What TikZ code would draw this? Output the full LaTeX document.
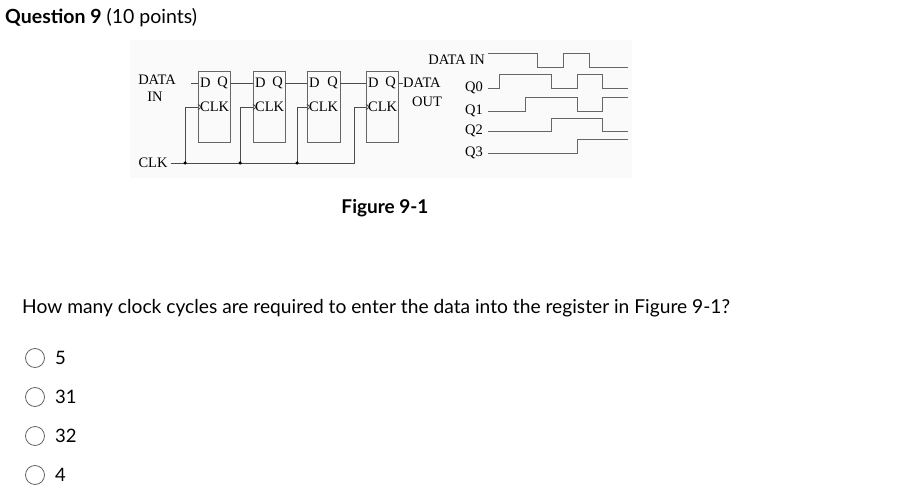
\documentclass[tikz,border=0pt]{standalone}
\usepackage{fontspec}
\setmainfont{Lato}
\newfontfamily\fserif{Liberation Serif}
\begin{document}
\begin{tikzpicture}[x=1pt,y=-1pt,
  ff/.style={draw=black!60,line width=0.9pt},
  lab/.style={font=\fserif\fontsize{14.5}{15}\selectfont,inner sep=0pt},
  w/.style={draw=black!70,line width=0.8pt},
  wave/.style={draw=black!60,line width=0.9pt},
  dot/.style={circle,fill=black,inner sep=0pt,minimum size=3.5pt},
  radio/.style={circle,draw=black!60,line width=0.8pt,minimum size=19pt,inner sep=0pt},
  opt/.style={anchor=west,font=\fontsize{18.5}{20}\selectfont,inner sep=0pt}]
\useasboundingbox (0,0) rectangle (899,494);
\fill[black!2] (130,40) rectangle (632,178);
\node[anchor=west,inner sep=0pt,font=\fontsize{19.5}{21}\selectfont] (title) at (5,18) {\textbf{Question 9} (10 points)};
% flip-flops
\foreach \i/\a/\b in {1/198/230,2/253/285,3/307/340,4/366/398}{
  \draw[ff] (\a,71) rectangle (\b,142);
  \node[lab,anchor=west] (d\i) at (\a+2,83) {D};
  \node[lab,anchor=east] (q\i) at (\b-2,83) {Q};
  \node[lab,anchor=west] (c\i) at (\a+2,107) {CLK};
  \coordinate (din\i) at (\a,83);
  \coordinate (dout\i) at (\b,83);
  \coordinate (ck\i) at (\a,107);
  \draw[w] (\a,104) -- (\a+3,107) -- (\a,110);
}
\node[lab] (datain) at (157,80) {DATA};
\node[lab] (in) at (155,97) {IN};
\coordinate (dinstart) at (191,83);
\draw[w] (dinstart) -- (din1);
\draw[w] (dout1) -- (din2);
\draw[w] (dout2) -- (din3);
\draw[w] (dout3) -- (din4);
\node[lab,anchor=west] (dataout) at (403,83) {DATA};
\node[lab,anchor=west] (out) at (412,102) {OUT};
\draw[w] (dout4) -- (dataout.west);
\node[lab] (clk) at (153,163) {CLK};
\coordinate (b1) at (185,163);
\coordinate (b2) at (240,163);
\coordinate (b3) at (297,163);
\coordinate (b4) at (354,163);
\draw[w] (clk.east)++(3,0) -- (b4) -- (354,107) -- (ck4);
\draw[w] (b1) -- (185,107) -- (ck1);
\draw[w] (b2) -- (240,107) -- (ck2);
\draw[w] (b3) -- (297,107) -- (ck3);
\foreach \k in {1,2,3} \node[dot] (p\k) at (b\k) {};
% waveforms
\node[lab,anchor=east] (ldin) at (485,60) {DATA IN};
\node[lab,anchor=east] (lq0) at (483,88) {Q0};
\node[lab,anchor=east] (lq1) at (483,111) {Q1};
\node[lab,anchor=east] (lq2) at (483,131) {Q2};
\node[lab,anchor=east] (lq3) at (483,153) {Q3};
\draw[wave] (488,53) -- (537,53) -- (537,67) -- (563,67) -- (563,53) -- (589,53) -- (589,67) -- (628,67);
\draw[wave] (488,88) -- (499,88) -- (499,74) -- (551,74) -- (551,88) -- (577,88) -- (577,74) -- (602,74) -- (602,88) -- (628,88);
\draw[wave] (488,111) -- (525,111) -- (525,97) -- (577,97) -- (577,111) -- (602,111) -- (602,97) -- (628,97);
\draw[wave] (488,131) -- (551,131) -- (551,118) -- (602,118) -- (602,131) -- (628,131);
\draw[wave] (488,153) -- (577,153) -- (577,139) -- (628,139);
\node[inner sep=0pt,font=\fontsize{19}{21}\selectfont] (fig) at (385,208) {\textbf{Figure 9-1}};
\node[anchor=west,inner sep=0pt,font=\fontsize{19.2}{21}\selectfont] (q) at (22,308) {How many clock cycles are required to enter the data into the register in Figure 9-1?};
\foreach \y/\t/\n in {358/5/a,397/31/b,436/32/c,475/4/d}{
  \node[radio] (r\n) at (35,\y) {};
  \node[opt] (o\n) at (55,\y) {\t};
}
\end{tikzpicture}
\end{document}
